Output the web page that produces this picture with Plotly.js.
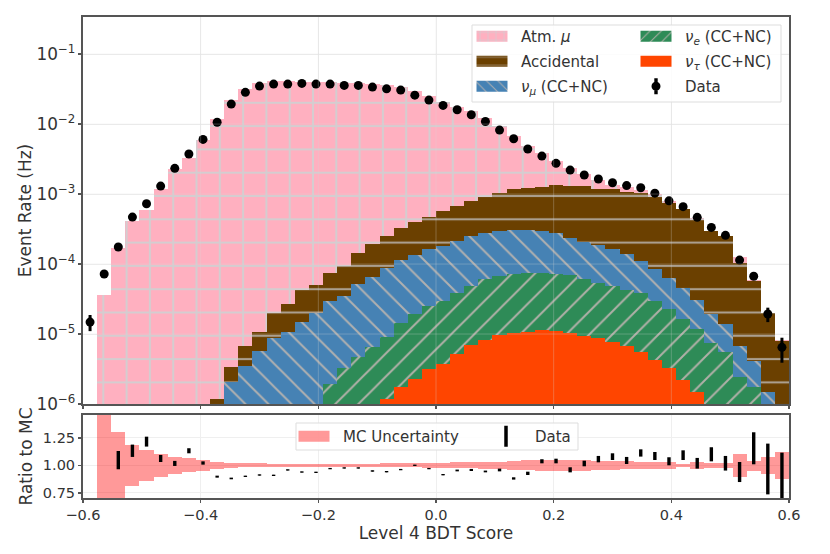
<!DOCTYPE html>
<html lang="en">
<head>
    <meta charset="UTF-8">
    <title>Level 4 BDT Score</title>
    <script src="https://cdn.plot.ly/plotly-3.0.1.min.js"></script>
    <style>
        html, body {margin: 0; padding: 0; background: white;}
        /* matplotlib style wide legend patches and the Data dot with its bar */
        g.legendpoints path:not(.scatterpts) {d: path("M15.5,5.5H-15.5V-5.5H15.5Z") !important;}
        .legend2 path.scatterpts {d: path("M4.5,0A4.5,4.5 0 1,1 -4.5,0A4.5,4.5 0 1,1 4.5,0ZM1.7,-8V8H-1.7V-8Z");}
    </style>
</head>

<body>

<div id="plot"></div>

<script>

    const binCenters = [
        -0.588,-0.564,-0.540,-0.516,-0.492,-0.468,-0.444,-0.420,-0.396,-0.372,
        -0.348,-0.324,-0.300,-0.276,-0.252,-0.228,-0.204,-0.180,-0.156,-0.132,
        -0.108,-0.084,-0.060,-0.036,-0.012,0.012,0.036,0.060,0.084,0.108,
        0.132,0.156,0.180,0.204,0.228,0.252,0.276,0.300,0.324,0.348,
        0.372,0.396,0.420,0.444,0.468,0.492,0.516,0.540,0.564,0.588
    ]

    // stacked histogram, each list is the top of its layer (Hz)
    const atmMuTop = [
        null,3.57e-5,1.67e-4,4.11e-4,5.9e-4,1.2e-3,2.28e-3,3.27e-3,5.9e-3,1.17e-2,
        2.18e-2,3.13e-2,3.81e-2,4.11e-2,4.11e-2,4.05e-2,4.05e-2,3.94e-2,3.87e-2,3.81e-2,
        3.69e-2,3.57e-2,3.41e-2,2.99e-2,2.51e-2,2.08e-2,1.77e-2,1.53e-2,1.23e-2,9.46e-3,
        6.8e-3,4.9e-3,3.85e-3,2.96e-3,2.38e-3,1.91e-3,1.58e-3,1.36e-3,1.27e-3,1.14e-3,
        1e-3,7.9e-4,6.05e-4,4.5e-4,3e-4,2.54e-4,1.25e-4,5.9e-5,1.98e-5,8.2e-6
    ]
    const accidentalTop = [
        null,null,null,null,null,null,null,null,null,1.18e-6,
        3.34e-6,6.8e-6,1.06e-5,1.98e-5,2.65e-5,4.25e-5,5.0e-5,7.36e-5,9.27e-5,1.42e-4,
        1.91e-4,2.54e-4,3.24e-4,3.94e-4,4.74e-4,5.7e-4,6.74e-4,7.94e-4,9.15e-4,1.04e-3,
        1.17e-3,1.22e-3,1.27e-3,1.34e-3,1.32e-3,1.32e-3,1.2e-3,1.18e-3,1.08e-3,1.02e-3,
        8.97e-4,7.36e-4,6.05e-4,4.25e-4,3e-4,2.51e-4,1.04e-4,5.7e-5,1.98e-5,8e-6
    ]
    const nuMuTop = [
        null,null,null,null,null,null,null,null,null,null,
        2.08e-6,3.46e-6,5.7e-6,8.85e-6,1.06e-5,1.5e-5,1.98e-5,2.96e-5,3.52e-5,5.13e-5,
        6.6e-5,8.7e-5,1.14e-4,1.34e-4,1.62e-4,1.81e-4,2.15e-4,2.51e-4,2.75e-4,2.96e-4,
        3.03e-4,3.03e-4,2.93e-4,2.75e-4,2.33e-4,2.08e-4,1.85e-4,1.62e-4,1.39e-4,1.11e-4,
        8.48e-5,6.37e-5,4.5e-5,3.06e-5,1.93e-5,1.38e-5,6.8e-6,4.11e-6,1.47e-6,null
    ]
    const nuETop = [
        null,null,null,null,null,null,null,null,null,null,
        null,null,null,null,null,null,null,1.91e-6,3.24e-6,4.74e-6,
        6.6e-6,9.15e-6,1.45e-5,1.95e-5,2.54e-5,2.96e-5,3.89e-5,4.9e-5,6.04e-5,6.67e-5,
        7.2e-5,7.44e-5,7.44e-5,7.3e-5,6.9e-5,6.17e-5,5.4e-5,4.9e-5,4.25e-5,3.89e-5,
        2.99e-5,2.25e-5,1.65e-5,1.19e-5,7.36e-6,5.6e-6,2.4e-6,1.77e-6,null,null
    ]
    const nuTauTop = [
        null,null,null,null,null,null,null,null,null,null,
        null,null,null,null,null,null,null,null,null,null,
        null,1.17e-6,1.77e-6,2.3e-6,3.13e-6,3.73e-6,5.23e-6,6.9e-6,8.3e-6,9.6e-6,
        1.03e-5,1.06e-5,1.13e-5,1.10e-5,1.02e-5,9.46e-6,8.68e-6,7.6e-6,6.8e-6,5.6e-6,
        4.25e-6,3.24e-6,2.22e-6,1.47e-6,null,null,null,null,null,null
    ]

    const dataRate = [
        1.48e-5,7.2e-5,1.75e-4,4.69e-4,7.26e-4,1.30e-3,2.33e-3,3.73e-3,6.04e-3,1.06e-2,
        1.93e-2,2.84e-2,3.49e-2,3.73e-2,3.73e-2,3.81e-2,3.73e-2,3.73e-2,3.57e-2,3.57e-2,
        3.38e-2,3.19e-2,3.06e-2,2.59e-2,2.20e-2,1.85e-2,1.60e-2,1.36e-2,1.09e-2,8.2e-3,
        6.17e-3,4.40e-3,3.49e-3,2.75e-3,2.20e-3,1.87e-3,1.64e-3,1.45e-3,1.32e-3,1.23e-3,
        1.03e-3,8.0e-4,6.6e-4,4.65e-4,3.34e-4,2.57e-4,1.14e-4,6.7e-5,1.93e-5,6.46e-6
    ]
    // only the last bins and the first have error bars longer than the dots
    const dataErrUp = [
        3.9e-6,0,0,0,0,0,0,0,0,0,0,0,0,0,0,0,0,0,0,0,0,0,0,0,0,
        0,0,0,0,0,0,0,0,0,0,0,0,0,0,0,0,0,0,0,0,0,0,0,4.5e-6,2.4e-6
    ]
    const dataErrDown = [
        3.8e-6,0,0,0,0,0,0,0,0,0,0,0,0,0,0,0,0,0,0,0,0,0,0,0,0,
        0,0,0,0,0,0,0,0,0,0,0,0,0,0,0,0,0,0,0,0,0,0,0,4.5e-6,2.57e-6
    ]

    // ratio panel
    const mcHigh = [
        null,1.6,1.306,1.185,1.14,1.10,1.079,1.064,1.048,1.033,
        1.024,1.018,1.017,1.016,1.016,1.015,1.015,1.015,1.015,1.016,
        1.016,1.017,1.018,1.020,1.024,1.024,1.027,1.027,1.03,1.033,
        1.04,1.045,1.048,1.052,1.052,1.05,1.042,1.042,1.035,1.033,
        1.03,1.03,1.015,1.033,1.023,1.025,1.106,1.042,1.079,1.124
    ]
    const mcLow = [
        null,0.6,0.6,0.815,0.858,0.897,0.918,0.936,0.952,0.964,
        0.976,0.982,0.983,0.984,0.984,0.985,0.985,0.985,0.985,0.984,
        0.984,0.983,0.982,0.980,0.976,0.976,0.973,0.973,0.97,0.967,
        0.96,0.955,0.952,0.948,0.948,0.945,0.958,0.958,0.965,0.967,
        0.97,0.97,0.985,0.967,0.977,0.975,0.897,0.952,0.921,0.879
    ]
    const ratioHigh = [
        null,null,1.13,1.188,1.26,1.094,1.04,1.155,1.036,0.906,
        0.888,0.906,0.918,0.915,0.964,0.945,0.942,0.976,0.982,0.982,
        0.955,0.948,0.967,1.006,0.976,0.921,0.961,0.967,0.952,0.97,
        0.891,0.942,1.055,1.06,0.982,1.042,1.085,1.109,1.076,1.145,
        1.121,1.073,1.136,1.067,1.164,1.085,1.03,1.30,1.197,1.115
    ]
    const ratioLow = [
        null,null,0.964,1.076,1.17,1.03,0.994,1.109,1.006,0.888,
        0.873,0.894,0.906,0.903,0.952,0.933,0.930,0.964,0.97,0.97,
        0.942,0.936,0.955,0.994,0.964,0.909,0.945,0.948,0.936,0.945,
        0.87,0.912,1.018,1.018,0.936,0.991,1.027,1.048,1.012,1.079,
        1.048,1.0,1.048,0.97,1.036,0.952,0.848,1.009,0.736,0.68
    ]

    const yTicks = [1e-6, 1e-5, 1e-4, 1e-3, 1e-2, 1e-1]
    const xTicks = [-0.6, -0.4, -0.2, 0, 0.2, 0.4, 0.6]
    const ratioTicks = [0.75, 1.0, 1.25]

    const ratioMid = ratioHigh.map((h, i) => h === null ? null : (h + ratioLow[i]) / 2)

    const textColor = '#333333'
    const spine = '#555555'
    const overGrid = 'rgba(215,215,215,0.28)'
    const binWidth = 0.024

    function stackLayer(uid, y, name, color, shape, hatch, solidity, size, rank, legend) {
        return {
            uid: uid,
            x: binCenters,
            y: y,
            name: name,
            type: 'bar',
            width: binWidth,
            legend: legend,
            legendgroup: uid,
            legendrank: rank,
            marker: {
                color: color,
                line: {width: 0},
                pattern: {shape: shape, fgcolor: hatch, bgcolor: color, solidity: solidity, size: size, fillmode: 'replace'}
            }
        }
    }

    const traces = [
        stackLayer('atm', atmMuTop, 'Atm. <i>μ</i>', '#ffb0c0', '+', '#d4cdd0', 0.166, 23.3, 1, 'legend'),
        stackLayer('acc', accidentalTop, 'Accidental', '#6b4000', '-', '#ab9f8f', 0.09, 23.3, 2, 'legend'),
        stackLayer('numu', nuMuTop, '<i>ν</i><sub><i>μ</i></sub> (CC+NC)', '#4682b4', '\\', '#b0b0b0', 0.12, 16.3, 3, 'legend'),
        stackLayer('nue', nuETop, '<i>ν</i><sub><i>e</i></sub> (CC+NC)', '#2e8b57', '/', '#b0b0a8', 0.12, 16.3, 1, 'legend2'),
        {
            x: binCenters,
            y: nuTauTop,
            name: '<i>ν</i><sub><i>τ</i></sub> (CC+NC)',
            type: 'bar',
            width: binWidth,
            legend: 'legend2',
            legendgroup: 'nutau',
            legendrank: 2,
            marker: {color: '#ff4500', line: {width: 0}}
        },
        {
            x: binCenters,
            y: dataRate,
            name: 'Data',
            type: 'scatter',
            mode: 'markers',
            legend: 'legend2',
            legendgroup: 'data',
            legendrank: 3,
            marker: {color: 'black', size: 9},
            error_y: {type: 'data', symmetric: false, array: dataErrUp, arrayminus: dataErrDown, color: 'black', thickness: 3, width: 0}
        },
        {
            x: binCenters,
            y: mcHigh.map((h, i) => h === null ? null : h - mcLow[i]),
            base: mcLow,
            name: 'MC Uncertainty',
            type: 'bar',
            width: binWidth,
            xaxis: 'x2',
            yaxis: 'y2',
            legend: 'legend3',
            marker: {color: 'rgba(255,0,0,0.4)', line: {width: 0}}
        },
        {
            x: binCenters,
            y: ratioMid,
            type: 'scatter',
            mode: 'markers',
            xaxis: 'x2',
            yaxis: 'y2',
            showlegend: false,
            marker: {size: 1, color: 'black'},
            error_y: {
                type: 'data',
                symmetric: false,
                array: ratioHigh.map((h, i) => h === null ? 0 : h - ratioMid[i]),
                arrayminus: ratioLow.map((l, i) => l === null ? 0 : ratioMid[i] - l),
                color: 'black',
                thickness: 3.4,
                width: 0
            }
        },
        {
            x: [null],
            y: [null],
            name: 'Data',
            type: 'scatter',
            mode: 'markers',
            xaxis: 'x2',
            yaxis: 'y2',
            legend: 'legend4',
            marker: {symbol: 'line-ns', size: 15, color: 'black', line: {color: 'black', width: 3.5}}
        }
    ]

    const axisStyle = {
        showline: true,
        linecolor: spine,
        linewidth: 2,
        mirror: true,
        ticks: 'outside',
        ticklen: 3,
        tickwidth: 1.5,
        tickcolor: spine,
        gridcolor: '#efefef',
        gridwidth: 1,
        zeroline: false,
        tickfont: {size: 14.5, color: textColor}
    }

    const legendStyle = {
        xanchor: 'left',
        yanchor: 'top',
        bgcolor: 'rgba(0,0,0,0)',
        borderwidth: 0,
        font: {size: 15, color: textColor},
        itemwidth: 48,
        tracegroupgap: 2.5
    }

    // pixel positions of the legend boxes turned into paper fractions
    const px = x => (x - 83) / 706
    const py = y => (498 - y) / 481

    function legendBox(x0, y0, x1, y1) {
        return {
            type: 'rect', xref: 'paper', yref: 'paper',
            x0: px(x0), x1: px(x1), y0: py(y0), y1: py(y1),
            fillcolor: 'rgba(255,255,255,0.85)',
            line: {color: '#dddddd', width: 1}
        }
    }

    const gridOver = [
        ...xTicks.slice(1, -1).map(v => ({type: 'line', xref: 'x', yref: 'y domain', x0: v, x1: v, y0: 0, y1: 1, line: {color: overGrid, width: 1}})),
        ...yTicks.slice(1).map(v => ({type: 'line', xref: 'x domain', yref: 'y', x0: 0, x1: 1, y0: v, y1: v, line: {color: overGrid, width: 1}}))
    ]

    const layout = {
        width: 830,
        height: 554,
        margin: {l: 83, r: 41, t: 17, b: 56},
        paper_bgcolor: 'white',
        plot_bgcolor: 'white',
        font: {family: 'DejaVu Sans', color: textColor},
        barmode: 'overlay',
        bargap: 0,
        xaxis: {...axisStyle, domain: [0, 1], range: [-0.6, 0.6], tickvals: xTicks, showticklabels: false, anchor: 'y'},
        yaxis: {
            ...axisStyle,
            domain: [0.1954, 1],
            type: 'log',
            range: [-6, -0.47],
            dtick: 1,
            exponentformat: 'power',
            tickfont: {size: 13.5, color: textColor},
            title: {text: 'Event Rate (Hz)', font: {size: 17, color: textColor}, standoff: 8},
            anchor: 'x'
        },
        xaxis2: {
            ...axisStyle,
            domain: [0, 1],
            range: [-0.6, 0.6],
            tickvals: xTicks,
            tickformat: '.1f',
            title: {text: 'Level 4 BDT Score', font: {size: 17, color: textColor}, standoff: 4},
            anchor: 'y2'
        },
        yaxis2: {
            ...axisStyle,
            domain: [0, 0.1726],
            range: [0.703, 1.457],
            tickvals: ratioTicks,
            tickformat: '.2f',
            title: {text: 'Ratio to MC', font: {size: 17, color: textColor}, standoff: 6},
            anchor: 'x2'
        },
        legend: {...legendStyle, x: px(463), y: py(20)},
        legend2: {...legendStyle, x: px(627), y: py(20)},
        legend3: {...legendStyle, x: px(285), y: py(420)},
        legend4: {...legendStyle, x: px(477), y: py(420)},
        shapes: [...gridOver, legendBox(472, 25, 781, 102), legendBox(296, 423, 578, 450)],
        showlegend: true
    }

    // hatch phase measured on the picture, in px
    const hatchShift = {atm: [8.65, 4.25], acc: [0, 4.25], numu: [5.83, 0], nue: [16.95, 0]}

    function finishPage() {
        Object.keys(hatchShift).forEach(uid => {
            document.querySelectorAll('pattern[id$="-' + uid + '"]:not([id*="legend"])').forEach(p => {
                p.setAttribute('patternTransform', 'translate(' + hatchShift[uid].join(',') + ')')
            })
        })
        const title = document.querySelector('.ytitle')
        if (title && !title.dataset.moved) {
            title.setAttribute('transform', 'translate(8,0) ' + title.getAttribute('transform'))
            title.dataset.moved = '1'
        }
    }

    Plotly.newPlot('plot', traces, layout, {displayModeBar: false, staticPlot: true}).then(finishPage)

</script>
</body>
</html>
